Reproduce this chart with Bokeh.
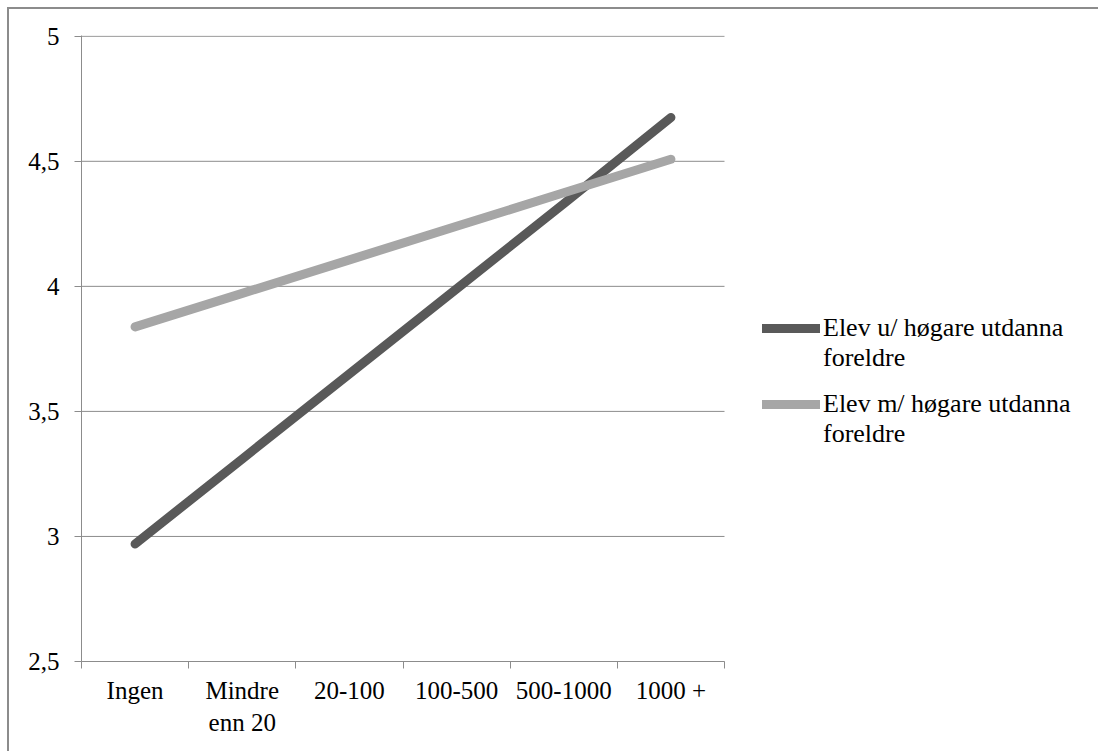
from bokeh.plotting import figure
from bokeh.models import FixedTicker, Legend, LegendItem, Range1d
from bokeh.embed import file_html
from bokeh.resources import INLINE

# Number of books at home vs. average score, by parents' education
categories = ["Ingen", "Mindre\nenn 20", "20-100", "100-500", "500-1000", "1000 +"]
utan_hogare = [2.97, 3.31, 3.65, 3.99, 4.33, 4.675]
med_hogare = [3.838, 3.972, 4.106, 4.240, 4.374, 4.508]
series_names = ["Elev u/ høgare utdanna\nforeldre", "Elev m/ høgare utdanna\nforeldre"]
y_ticks = [2.5, 3, 3.5, 4, 4.5, 5]
y_tick_labels = ["2,5", "3", "3,5", "4", "4,5", "5"]

FONT = "Liberation Serif"
GRAY = "#8c8c8c"

n = len(categories)
x_pos = [i + 0.5 for i in range(n)]
boundaries = list(range(n + 1))

# The frame runs to the right edge so the legend can sit beside the
# category area; the categories themselves occupy the first 643 px.
CAT_AREA_PX = 643
FRAME_W = 1017
FRAME_H = 626
x_end = n * FRAME_W / CAT_AREA_PX

p = figure(width=1089, height=742, frame_width=FRAME_W, frame_height=FRAME_H,
           x_range=Range1d(0, x_end), y_range=Range1d(2.5, 5.003),
           output_backend="svg", toolbar_location=None,
           min_border_left=72, min_border_right=0,
           min_border_top=26, min_border_bottom=90)
# thin grey chart border (top/left edges)
p.styles = {"margin-left": "7px", "margin-top": "7px",
            "border-left": "2px solid " + GRAY, "border-top": "2px solid " + GRAY}
p.outline_line_color = None
p.background_fill_color = "white"
p.border_fill_color = "white"
p.xgrid.visible = False
p.ygrid.visible = False

# horizontal gridlines across the category area only
p.segment(x0=0, x1=n, y0=y_ticks, y1=y_ticks, line_color=GRAY, line_width=1)

# y axis
p.yaxis.ticker = FixedTicker(ticks=y_ticks)
p.yaxis.major_label_overrides = dict(zip(y_ticks, y_tick_labels))
p.yaxis.axis_line_color = GRAY
p.yaxis.major_tick_line_color = GRAY
p.yaxis.major_tick_in = 0
p.yaxis.major_tick_out = 7
p.yaxis.minor_tick_line_color = None
p.yaxis.major_label_standoff = 15

# x axis: ticks at category boundaries, labels at centres
p.xaxis.bounds = (0, n)
p.xaxis.ticker = FixedTicker(ticks=x_pos, minor_ticks=boundaries)
p.xaxis.major_label_overrides = dict(zip(x_pos, categories))
p.xaxis.axis_line_color = GRAY
p.xaxis.major_tick_line_color = None
p.xaxis.minor_tick_line_color = GRAY
p.xaxis.minor_tick_in = 0
p.xaxis.minor_tick_out = 7
p.xaxis.major_label_standoff = 8

for ax in (p.xaxis[0], p.yaxis[0]):
    ax.major_label_text_font = FONT
    ax.major_label_text_font_size = "25px"
    ax.major_label_text_color = "black"
    ax.major_label_text_line_height = 1.2

r1 = p.line(x_pos, utan_hogare, line_color="#595959", line_width=9, line_cap="round")
r2 = p.line(x_pos, med_hogare, line_color="#a6a6a6", line_width=9, line_cap="round")


def legend_entry(label, renderer, bottom):
    # leading newline keeps the line glyph level with the first text line
    return Legend(items=[LegendItem(label="\n" + label, renderers=[renderer])],
                  location=(681, bottom), margin=0, padding=0,
                  glyph_width=58, glyph_height=20, label_standoff=3,
                  label_text_font=FONT, label_text_font_size="26px",
                  label_text_color="black", label_text_line_height=1.15,
                  border_line_color=None, background_fill_alpha=0)


p.add_layout(legend_entry(series_names[0], r1, 288), "center")
p.add_layout(legend_entry(series_names[1], r2, 212), "center")

open("out.html", "w").write(file_html(p, INLINE))
